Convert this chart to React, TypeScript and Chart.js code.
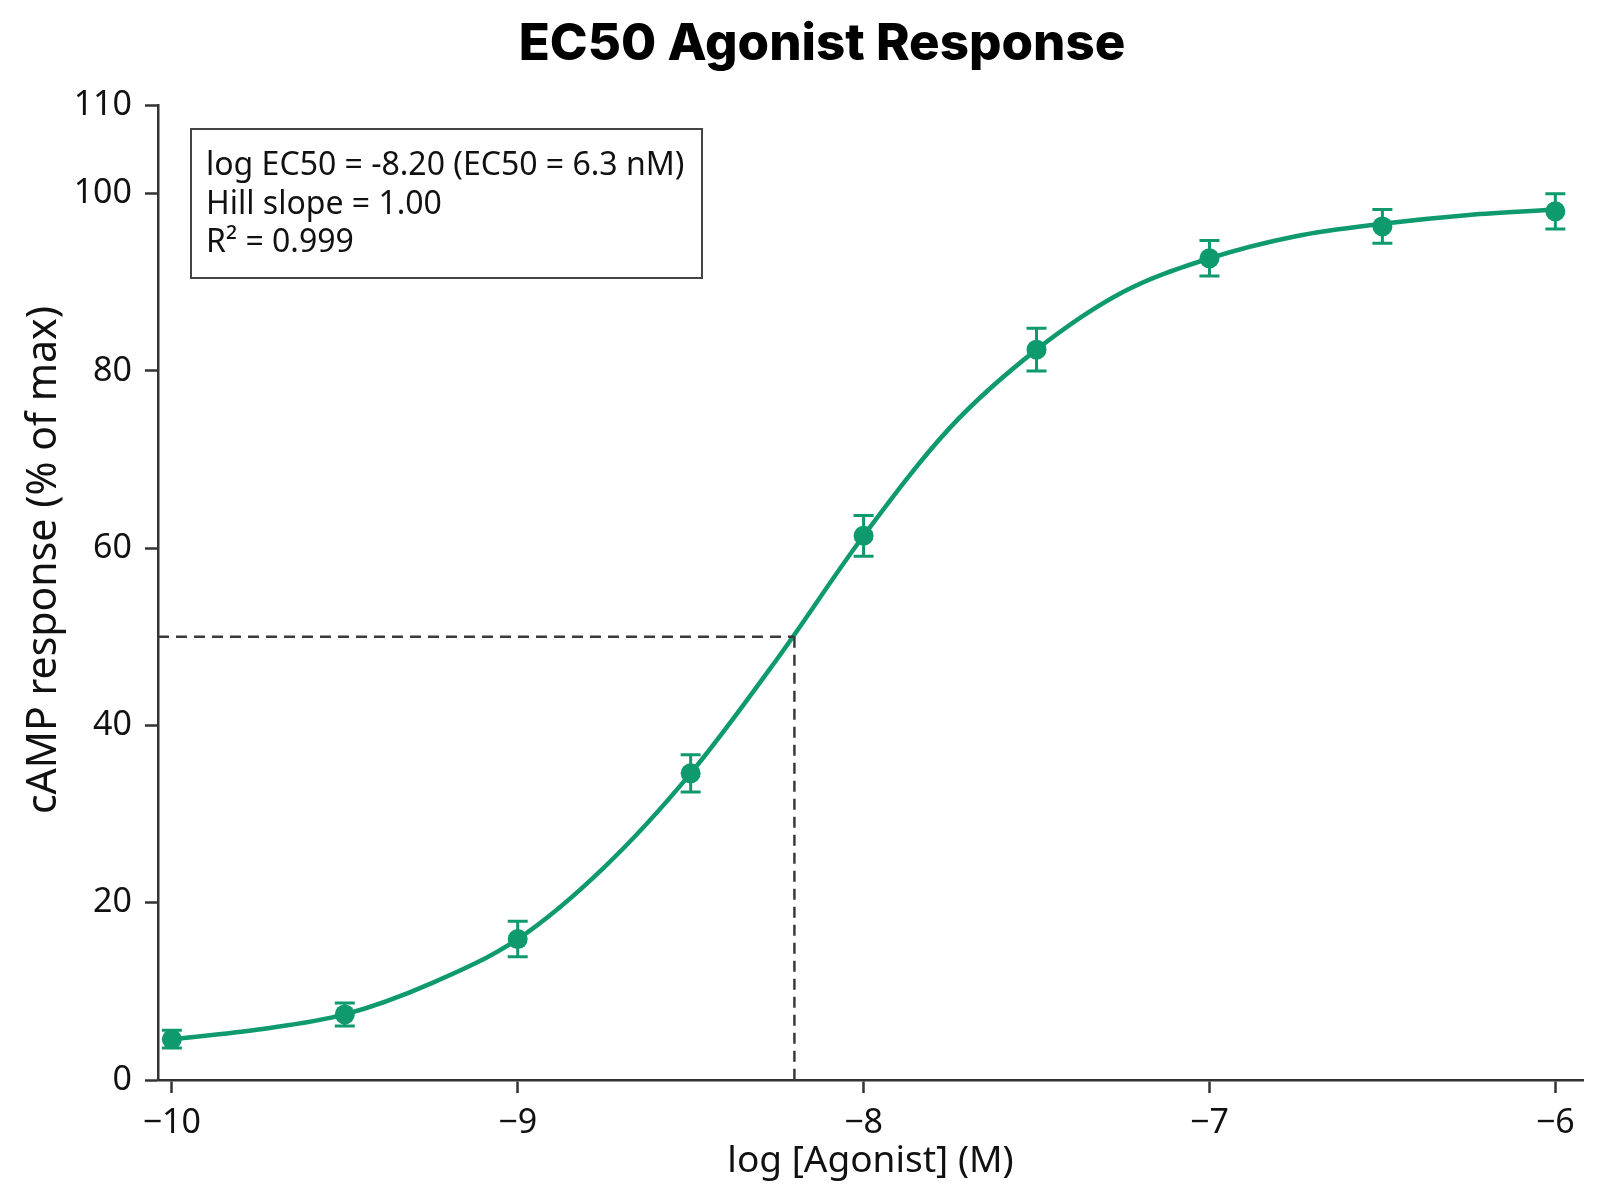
import React, { useEffect, useRef } from "react";
import { Chart, registerables } from "chart.js";

Chart.register(...registerables);

// ---- data ----
const LOG_CONC = [-10, -9.5, -9, -8.5, -8, -7.5, -7, -6.5, -6];
const RESPONSE = [4.6, 7.4, 15.9, 34.6, 61.4, 82.4, 92.7, 96.3, 98.0];
const SEM = [1.0, 1.3, 2.0, 2.1, 2.3, 2.4, 2.0, 1.9, 2.0];
// fitted curve
const FIT_X = [-10, -9.75, -9.5, -9.25, -9, -8.75, -8.5, -8.25, -8, -7.75, -7.5, -7.25, -7, -6.75, -6.5, -6.25, -6];
const FIT_Y = [4.6, 5.7, 7.4, 10.9, 15.9, 24.0, 34.6, 47.5, 61.4, 73.6, 82.4, 88.9, 92.7, 95.2, 96.6, 97.6, 98.2];
const X_TICKS = [-10, -9, -8, -7, -6];
const Y_TICKS = [0, 20, 40, 60, 80, 100, 110];
const X_MIN = -10.04;
const X_MAX = -5.92;
const Y_MIN = 0;
const Y_MAX = 110;
const LOG_EC50 = -8.2;
const HALF_MAX = 50;
const FIT_LINES = ["log EC50 = -8.20 (EC50 = 6.3 nM)", "Hill slope = 1.00", "R² = 0.999"];
const TITLE = "EC50 Agonist Response";
const X_TITLE = "log [Agonist] (M)";
const Y_TITLE = "cAMP response (% of max)";

const GREEN = "#0e9a6e";
const AXIS = "#333333";
const TEXT = "#111111";
const SANS = "'Noto Sans', 'Open Sans', sans-serif";

const decorPlugin = {
  id: "decor",
  afterDatasetsDraw(chart: any) {
    const ctx = chart.ctx;
    const xs = chart.scales.x;
    const ys = chart.scales.y;
    // error bars
    ctx.save();
    ctx.strokeStyle = GREEN;
    ctx.lineWidth = 3;
    LOG_CONC.forEach((xv, i) => {
      const px = xs.getPixelForValue(xv);
      const top = ys.getPixelForValue(RESPONSE[i] + SEM[i]);
      const bot = ys.getPixelForValue(RESPONSE[i] - SEM[i]);
      ctx.beginPath();
      ctx.moveTo(px, top);
      ctx.lineTo(px, bot);
      ctx.moveTo(px - 10, top);
      ctx.lineTo(px + 10, top);
      ctx.moveTo(px - 10, bot);
      ctx.lineTo(px + 10, bot);
      ctx.stroke();
    });
    ctx.restore();
  },
  afterDraw(chart: any) {
    const ctx = chart.ctx;
    const area = chart.chartArea;
    ctx.save();
    // main title
    ctx.fillStyle = "#000";
    ctx.font = "800 51px Inter, Roboto, sans-serif";
    ctx.textAlign = "center";
    ctx.textBaseline = "alphabetic";
    ctx.fillText(TITLE, 822, 60);
    // x title
    ctx.fillStyle = TEXT;
    ctx.font = "37px " + SANS;
    ctx.fillText(X_TITLE, (area.left + area.right) / 2, 1172);
    // y title
    ctx.save();
    ctx.translate(56, 560);
    ctx.rotate(-Math.PI / 2);
    ctx.font = "41px " + SANS;
    ctx.textAlign = "center";
    ctx.fillText(Y_TITLE, 0, 0);
    ctx.restore();
    // fit box
    const bx = area.left + 33;
    const by = area.top + 24;
    const bw = 511;
    const bh = 149;
    ctx.fillStyle = "#ffffff";
    ctx.fillRect(bx, by, bw, bh);
    ctx.strokeStyle = "#444444";
    ctx.lineWidth = 2;
    ctx.strokeRect(bx, by, bw, bh);
    ctx.fillStyle = TEXT;
    ctx.font = "32px " + SANS;
    ctx.textAlign = "left";
    FIT_LINES.forEach((line, i) => {
      ctx.fillText(line, bx + 15, by + 46 + i * 38.5);
    });
    ctx.restore();
  },
};

export default function App() {
  const ref = useRef<HTMLCanvasElement | null>(null);
  useEffect(() => {
    document.body.style.margin = "0";
    const canvas = ref.current;
    if (!canvas) return;
    const points = LOG_CONC.map((x, i) => ({ x, y: RESPONSE[i] }));
    const fit = FIT_X.map((x, i) => ({ x, y: FIT_Y[i] }));
    const chart = new Chart(canvas, {
      type: "line",
      data: {
        datasets: [
          {
            label: "guide-h",
            data: [
              { x: X_MIN, y: HALF_MAX },
              { x: LOG_EC50, y: HALF_MAX },
            ],
            borderColor: "#3a3a3a",
            borderWidth: 2.5,
            borderDash: [11, 7],
            pointRadius: 0,
            tension: 0,
          },
          {
            label: "guide-v",
            data: [
              { x: LOG_EC50, y: HALF_MAX },
              { x: LOG_EC50, y: Y_MIN },
            ],
            borderColor: "#3a3a3a",
            borderWidth: 2.5,
            borderDash: [11, 7],
            pointRadius: 0,
            tension: 0,
          },
          {
            label: "fit",
            data: fit,
            borderColor: GREEN,
            borderWidth: 4.5,
            pointRadius: 0,
            cubicInterpolationMode: "monotone",
          },
          {
            label: "mean",
            data: points,
            showLine: false,
            pointRadius: 10,
            pointBackgroundColor: GREEN,
            pointBorderWidth: 0,
            borderColor: GREEN,
          },
        ],
      },
      options: {
        animation: false,
        responsive: false,
        devicePixelRatio: 1,
        layout: { padding: { left: 0, right: 17, top: 105, bottom: 0 } },
        plugins: {
          legend: { display: false },
          title: { display: false },
          tooltip: { enabled: false },
        },
        scales: {
          x: {
            type: "linear",
            min: X_MIN,
            max: X_MAX,
            afterFit: (s: any) => {
              s.height = 120;
            },
            afterBuildTicks: (s: any) => {
              s.ticks = X_TICKS.map((v) => ({ value: v }));
            },
            border: { display: true, color: AXIS, width: 2.5 },
            grid: {
              drawOnChartArea: false,
              drawTicks: true,
              tickLength: 13,
              tickWidth: 2.5,
              tickColor: AXIS,
            },
            ticks: {
              color: TEXT,
              font: { family: SANS, size: 34 },
              padding: 10,
              maxRotation: 0,
              callback: (v: any) => String(v).replace("-", "\u2212"),
            },
          },
          y: {
            type: "linear",
            min: Y_MIN,
            max: Y_MAX,
            afterFit: (s: any) => {
              s.width = 158;
            },
            afterBuildTicks: (s: any) => {
              s.ticks = Y_TICKS.map((v) => ({ value: v }));
            },
            border: { display: true, color: AXIS, width: 2.5 },
            grid: {
              drawOnChartArea: false,
              drawTicks: true,
              tickLength: 13,
              tickWidth: 2.5,
              tickColor: AXIS,
            },
            ticks: {
              color: TEXT,
              font: { family: SANS, size: 34 },
              padding: 13,
            },
          },
        },
      },
      plugins: [decorPlugin],
    });
    return () => chart.destroy();
  }, []);
  return (
    <div style={{ width: 1600, height: 1200, background: "#ffffff" }}>
      <canvas ref={ref} width={1600} height={1200} />
    </div>
  );
}
